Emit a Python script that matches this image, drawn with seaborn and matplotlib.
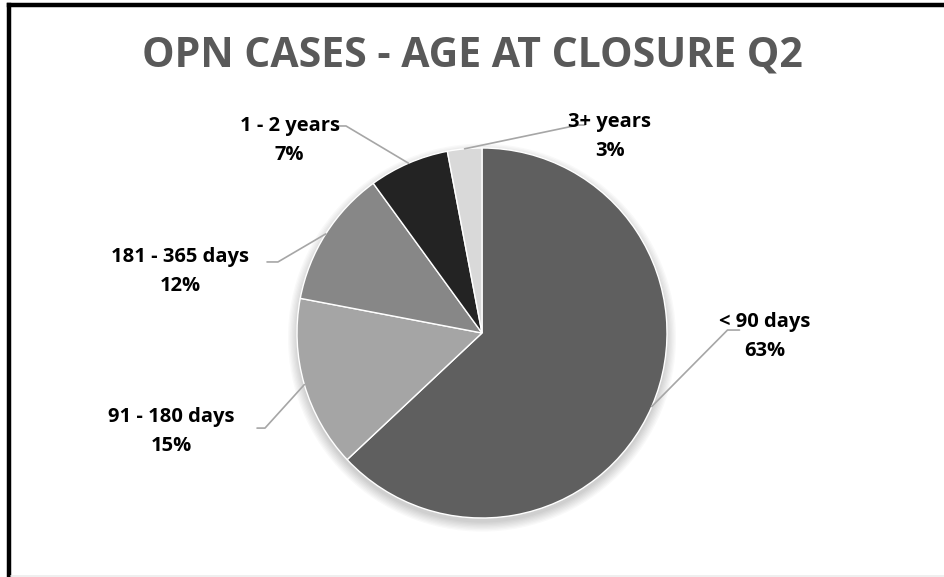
import numpy as np
import matplotlib
matplotlib.use("Agg")
import matplotlib.pyplot as plt
import seaborn as sns
from matplotlib.patches import Circle
from matplotlib.lines import Line2D

sns.set_theme(style="white")
plt.rcParams['font.family'] = ['Open Sans', 'DejaVu Sans']

# ---- data ----
categories = ["< 90 days", "91 - 180 days", "181 - 365 days", "1 - 2 years", "3+ years"]
percents = [63, 15, 12, 7, 3]
colors = ["#5f5f5f", "#a5a5a5", "#878787", "#232323", "#d9d9d9"]
title = "OPN CASES - AGE AT CLOSURE Q2"

# label placement (data units, pie radius = 1)
label_pos = [(1.53, -0.02), (-1.68, -0.53), (-1.63, 0.335), (-1.04, 1.04), (0.69, 1.06)]
elbow_pos = [(1.327, 0.016), (-1.173, -0.514), (-1.103, 0.384), (-0.735, 1.119), (0.519, 1.124)]
end_pos = [(1.392, 0.016), (-1.216, -0.514), (-1.162, 0.384), (-0.778, 1.119), (0.556, 1.124)]

W, H = 945, 577
fig = plt.figure(figsize=(W / 100, H / 100), dpi=100)
ax = fig.add_axes([0, 0, 1, 1])

cx, cy, R = 482, 333, 185

# soft shadow
for i in range(8):
    ax.add_patch(Circle((0.0, -0.025), 1.0 + 0.007 * i, color="black",
                        alpha=0.025, lw=0, zorder=0))

wedges, _ = ax.pie(percents, colors=colors, startangle=90, counterclock=False,
                   radius=1.0, wedgeprops=dict(linewidth=1.0, edgecolor="white"))
for w in wedges:
    w.set_zorder(2)

ax.set_aspect("auto")
ax.set_xlim(-cx / R, (W - cx) / R)
ax.set_ylim((cy - H) / R, cy / R)

for w, cat, p, lp, el, ep in zip(wedges, categories, percents, label_pos, elbow_pos, end_pos):
    mid = np.deg2rad((w.theta1 + w.theta2) / 2)
    px, py = np.cos(mid), np.sin(mid)
    ax.add_line(Line2D([px, el[0], ep[0]], [py, el[1], ep[1]], color="#a6a6a6",
                       lw=1.2, zorder=3))
    ax.text(lp[0], lp[1], f"{cat}\n{p}%", ha="center", va="center", fontsize=14.5,
            fontweight="bold", color="black", linespacing=1.6, zorder=4)

ax.text(0.5, 1 - 56 / H, title, transform=ax.transAxes, ha="center", va="center",
        fontsize=29.5, fontweight="bold", color="#595959")

ax.axis("off")

# frame (top and left borders, faint bottom line)
fig.add_artist(Line2D([9 / W, 9 / W], [0, 1 - 5 / H], transform=fig.transFigure,
                      color="black", lw=3.2, solid_capstyle="projecting"))
fig.add_artist(Line2D([9 / W, 1], [1 - 5 / H, 1 - 5 / H], transform=fig.transFigure,
                      color="black", lw=3.2, solid_capstyle="projecting"))
fig.add_artist(Line2D([11 / W, 1], [1.5 / H, 1.5 / H], transform=fig.transFigure,
                      color="#ececec", lw=1.2))

fig.savefig("out.png", dpi=100, facecolor="white")
